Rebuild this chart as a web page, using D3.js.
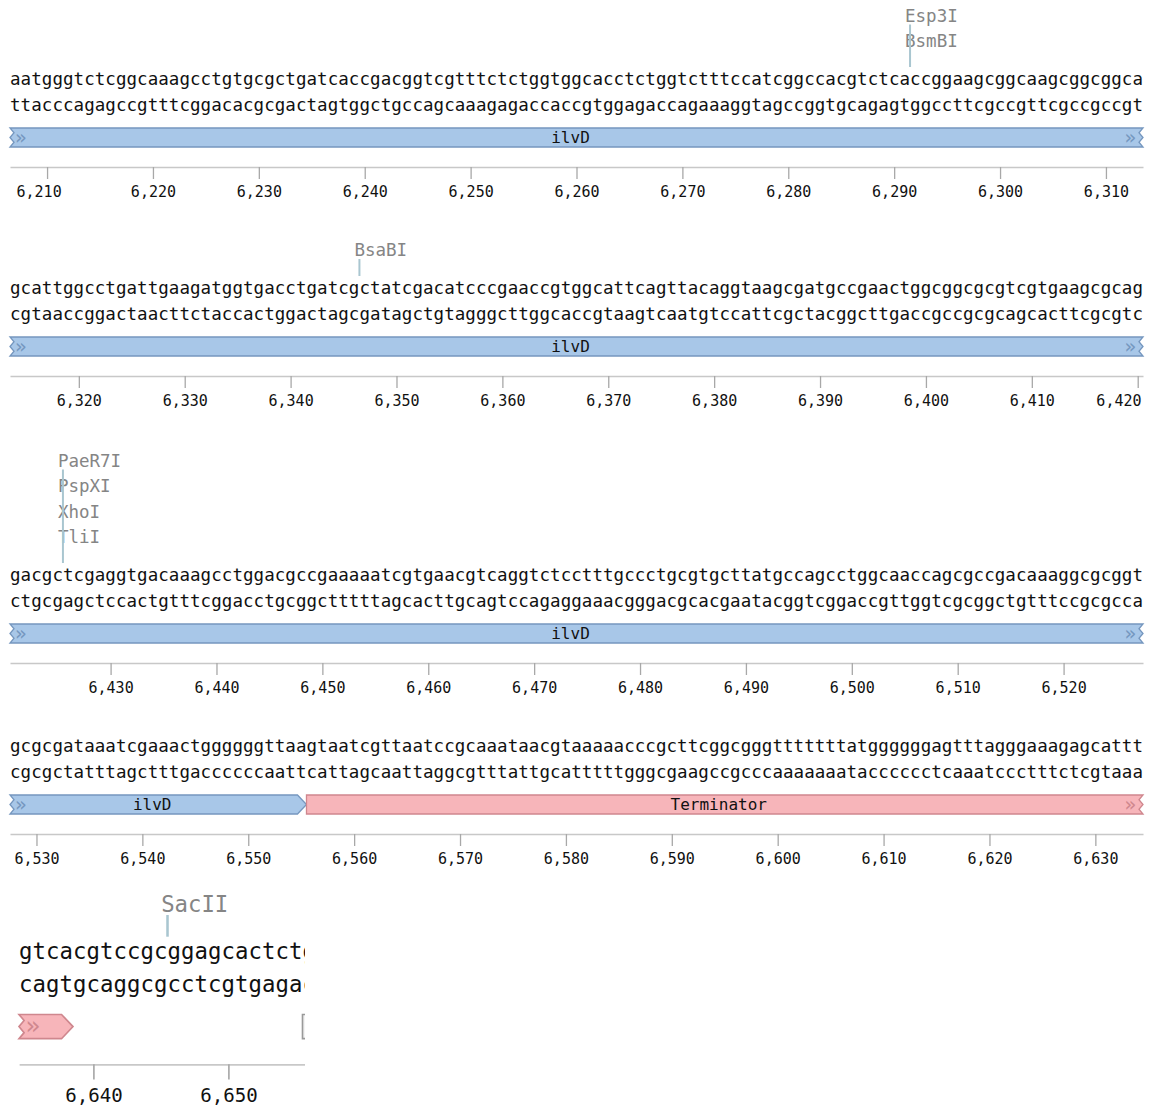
<!DOCTYPE html>
<html><head><meta charset="utf-8">
<script src="https://cdn.jsdelivr.net/npm/d3@7"></script>
<style>body{margin:0;background:#fff} svg{display:block}</style>
</head><body>
<svg id="c" width="1150" height="1108"></svg>
<script>
// ---- data ----
const rowStarts = [6207, 6314, 6421, 6528, 6635];
const rowSeqs = [
  "aatgggtctcggcaaagcctgtgcgctgatcaccgacggtcgtttctctggtggcacctctggtctttccatcggccacgtctcaccggaagcggcaagcggcggca",
  "gcattggcctgattgaagatggtgacctgatcgctatcgacatcccgaaccgtggcattcagttacaggtaagcgatgccgaactggcggcgcgtcgtgaagcgcag",
  "gacgctcgaggtgacaaagcctggacgccgaaaaatcgtgaacgtcaggtctcctttgccctgcgtgcttatgccagcctggcaaccagcgccgacaaaggcgcggt",
  "gcgcgataaatcgaaactggggggttaagtaatcgttaatccgcaaataacgtaaaaacccgcttcggcgggtttttttatggggggagtttagggaaagagcattt",
  "gtcacgtccgcggagcactctg"
];
const featNames   = ["ilvD", "Terminator", ""];
const featStarts  = [4612, 6556, 6656];
const featEnds    = [6555, 6638, 6760];
const featFills   = ["#a8c7e8", "#f7b5ba", "#f4f4f4"];
const featStrokes = ["#7597bf", "#cf878e", "#9a9a9a"];
const enzNames = ["Esp3I", "BsmBI", "BsaBI", "PaeR7I", "PspXI", "XhoI", "TliI", "SacII"];
const enzCuts  = [6292, 6292, 6347, 6426, 6426, 6426, 6426, 6646];

// ---- layout ----
const MONO = "'DejaVu Sans Mono', monospace";
const perRow = 107, X0 = 10, X1 = 1143;
const comp = {a:"t", t:"a", g:"c", c:"g"};
const svg = d3.select("#c");
svg.append("rect").attr("width",1150).attr("height",1108).attr("fill","#fff");
const defs = svg.append("defs");
defs.append("clipPath").attr("id","lastclip").append("rect")
  .attr("x",0).attr("y",870).attr("width",305).attr("height",238);

function drawRow(g, r) {
  const rs = rowStarts[r], re = rs + perRow - 1, seq = rowSeqs[r];
  const x = d3.scaleLinear().domain([rs - 0.5, rs + perRow - 0.5]).range([X0, X1]);

  // enzymes
  const enz = enzNames.map((n,i)=>({name:n, cut:enzCuts[i]})).filter(e => e.cut > rs && e.cut <= re + 1);
  const n = enz.length;
  enz.forEach((e,i) => {
    const cy = -38 - 25.5*(n-1-i);
    g.append("text").attr("x", x(e.cut - 0.5) - 5).attr("y", cy + 6.3)
      .attr("font-family", MONO).attr("font-size", 17.5).attr("fill", "#858585").text(e.name);
  });
  const cuts = Array.from(new Set(enz.map(e=>e.cut)));
  cuts.forEach(c => {
    g.append("line").attr("x1", x(c-0.5)).attr("x2", x(c-0.5))
      .attr("y1", -38 - 25.5*(n-1) + 9).attr("y2", -12)
      .attr("stroke", "#a9c6d0").attr("stroke-width", 2);
  });

  // sequence
  const chars = seq.split("");
  g.append("g").selectAll("text").data(chars).join("text")
    .attr("x", (d,i)=>x(rs+i)).attr("y", 5.5).attr("text-anchor","middle")
    .attr("font-family", MONO).attr("font-size", 17.5).attr("fill","#111").text(d=>d);
  g.append("g").selectAll("text").data(chars).join("text")
    .attr("x", (d,i)=>x(rs+i)).attr("y", 31.5).attr("text-anchor","middle")
    .attr("font-family", MONO).attr("font-size", 17.5).attr("fill","#111").text(d=>comp[d]);

  // features
  const top = 49, bot = 68, h = bot - top, mid = (top+bot)/2;
  featNames.forEach((name, fi) => {
    const fs = featStarts[fi], fe = featEnds[fi];
    if (fe < rs || fs > re) return;
    const a = Math.max(fs, rs), b = Math.min(fe, re);
    const xa = x(a - 0.5), xb = x(b + 0.5);
    const cl = fs < rs, cr = fe > re;
    const pts = [[xa, top]];
    if (cr) pts.push([xb, top], [xb-4, top+h/4], [xb, mid], [xb-4, top+3*h/4], [xb, bot]);
    else pts.push([xb-9, top], [xb, mid], [xb-9, bot]);
    pts.push([xa, bot]);
    if (cl) pts.push([xa+4, top+3*h/4], [xa, mid], [xa+4, top+h/4]);
    g.append("path").attr("d", d3.line()(pts) + "Z")
      .attr("fill", featFills[fi]).attr("stroke", featStrokes[fi]).attr("stroke-width", 1.3);
    if (cl) g.append("text").attr("x", xa + 5).attr("y", mid + 6).attr("font-family", MONO)
      .attr("font-size", 19).attr("fill", featStrokes[fi]).text("»");
    if (cr) g.append("text").attr("x", xb - 7).attr("y", mid + 6).attr("text-anchor","end").attr("font-family", MONO)
      .attr("font-size", 19).attr("fill", featStrokes[fi]).text("»");
    const labelW = name.length * 16 * 0.602;
    if (name && labelW + 20 < xb - xa) g.append("text").attr("x", (xa+xb)/2 - 6).attr("y", mid + 5.5).attr("text-anchor","middle")
      .attr("font-family", MONO).attr("font-size", 16).attr("fill","#111").text(name);
  });

  // axis
  const ticks = d3.range(Math.ceil(rs/10)*10, rs + perRow, 10);
  const axis = d3.axisBottom(x).tickValues(ticks).tickFormat(d3.format(","))
    .tickSize(12).tickSizeOuter(0).tickPadding(7);
  const ag = g.append("g").attr("transform","translate(0,88)").call(axis)
    .attr("font-family", MONO).attr("font-size", 15);
  ag.select(".domain").attr("stroke","#c8c8c8").attr("stroke-width",1.3);
  ag.selectAll(".tick line").attr("stroke","#a8a8a8").attr("stroke-width",1.3);
  ag.selectAll(".tick text").attr("fill","#111").each(function(d, i) {
    const tx = x(d);
    if (r === 0 && i === 0) d3.select(this).attr("text-anchor","start").attr("x", 16 - tx);
    else if (tx + 22.5 > 1141) d3.select(this).attr("text-anchor","end").attr("x", 1141 - tx);
  });
}

// row vertical positions
let s = 0;
const yts = [];
rowStarts.forEach((rs, r) => {
  const n = enzCuts.filter(c => c > rs && c <= rs + perRow).length;
  const area = n > 0 ? 12 + 26*n : 0;
  const yt = s + area + 15;
  yts.push(yt);
  s = yt - 15 + 171;
});

rowStarts.forEach((rs, r) => {
  if (r < rowStarts.length - 1) {
    drawRow(svg.append("g").attr("transform", `translate(0,${yts[r]})`), r);
  } else {
    const wrap = svg.append("g").attr("clip-path","url(#lastclip)");
    drawRow(wrap.append("g").attr("transform","translate(6.25,952) scale(1.275)"), r);
  }
});
</script>
</body></html>
